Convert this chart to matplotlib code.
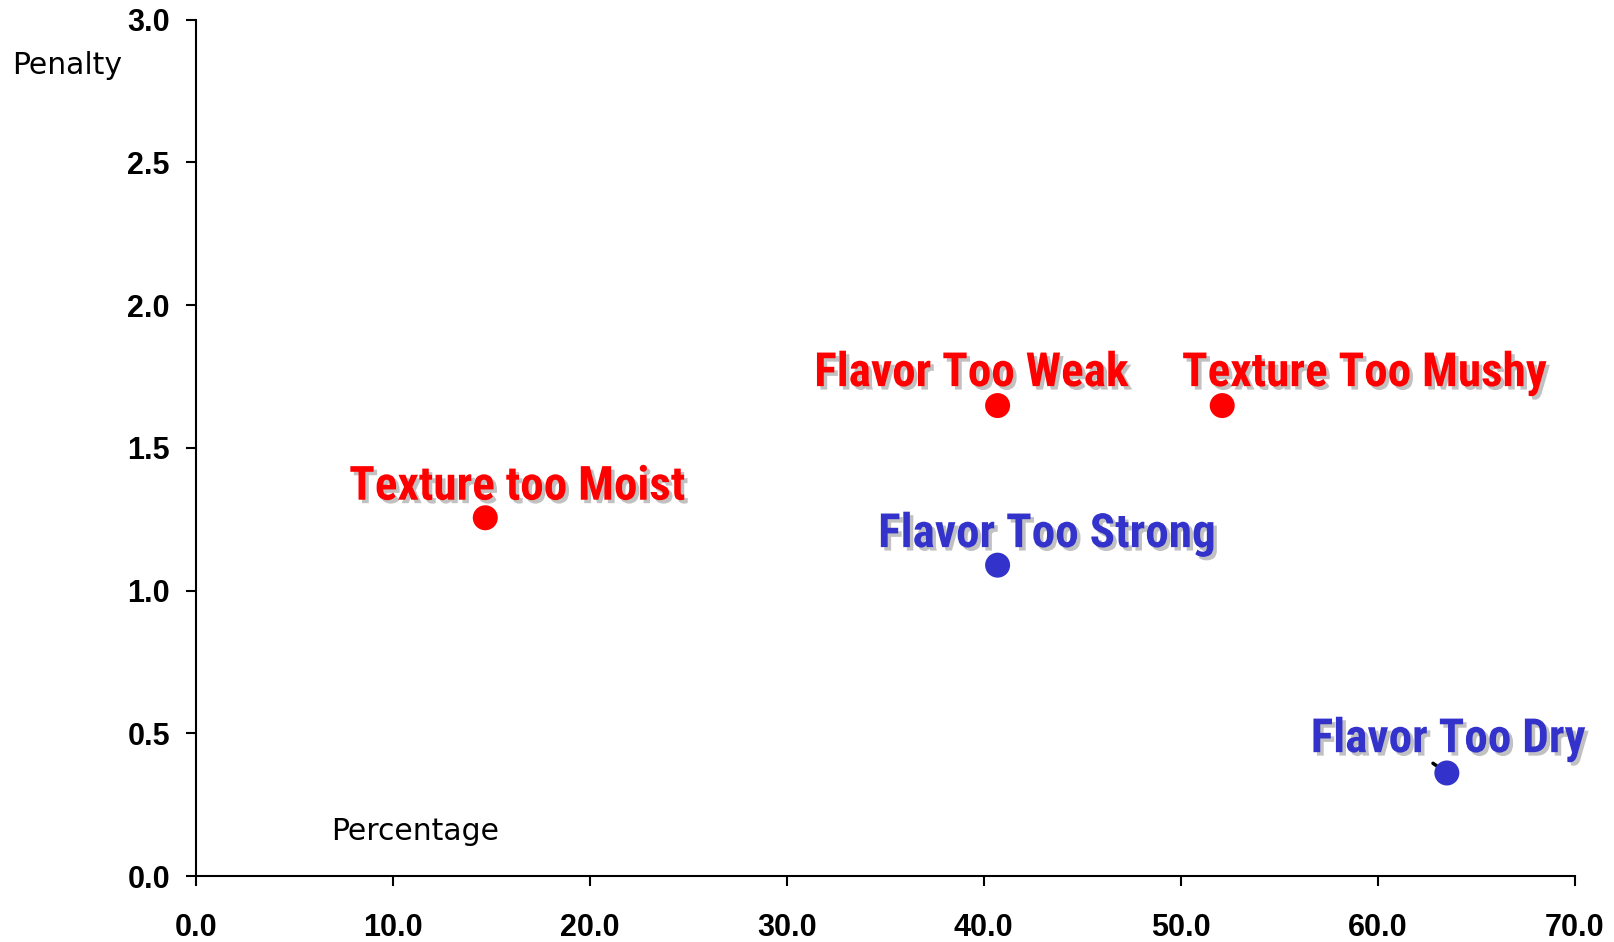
import matplotlib
matplotlib.use('Agg')
import matplotlib.pyplot as plt
import matplotlib.patheffects as pe

# Datos del gráfico de penalizaciones
etiquetas = ['Texture too Moist', 'Flavor Too Weak', 'Texture Too Mushy', 'Flavor Too Strong', 'Flavor Too Dry']
porcentaje = [14.7, 40.7, 52.1, 40.7, 63.5]
penalidad = [1.255, 1.648, 1.648, 1.089, 0.361]
colores = ['#FF0000', '#FF0000', '#FF0000', '#3333CC', '#3333CC']

# Desplazamiento de cada etiqueta respecto a su punto (en puntos)
desplazamientos = [(-98, 13), (-132, 14), (-29, 14), (-86, 13), (-98, 15)]

x_ticks = [0, 10, 20, 30, 40, 50, 60, 70]
y_ticks = [0.0, 0.5, 1.0, 1.5, 2.0, 2.5, 3.0]

fig = plt.figure(figsize=(16.14, 9.42), dpi=100)
ax = fig.add_axes([0.1212, 0.07, 0.8546, 0.9092])

ax.scatter(porcentaje, penalidad, s=324, c=colores, zorder=3, linewidths=0)

# pequeña línea guía que asoma en "Flavor Too Dry"
ax.annotate('', xy=(porcentaje[4], penalidad[4]), xytext=(-10, 7), textcoords='offset points',
            arrowprops=dict(arrowstyle='-', lw=2.5, color='black', shrinkA=0, shrinkB=0), zorder=2)

sombra = [pe.withSimplePatchShadow(offset=(2.5, -2.5), shadow_rgbFace='#999999', alpha=0.6)]
for et, x, y, c, d in zip(etiquetas, porcentaje, penalidad, colores, desplazamientos):
    ax.annotate(et, (x, y), xytext=d, textcoords='offset points', ha='left', va='baseline',
                color=c, fontsize=34, fontweight='bold',
                family=['Roboto Condensed', 'Roboto'],
                path_effects=sombra, zorder=4)

ax.set_xlim(0, 70)
ax.set_ylim(0, 3.0)
ax.set_xticks(x_ticks)
ax.set_xticklabels([f'{v:.1f}' for v in x_ticks])
ax.set_yticks(y_ticks)
ax.set_yticklabels([f'{v:.1f}' for v in y_ticks])

for s in ['top', 'right']:
    ax.spines[s].set_visible(False)
for s in ['left', 'bottom']:
    ax.spines[s].set_linewidth(1.5)

ax.tick_params(axis='both', direction='out', length=7.5, width=1.5)
ax.tick_params(axis='y', pad=11)
ax.tick_params(axis='x', pad=19)
for lab in ax.get_xticklabels() + ax.get_yticklabels():
    lab.set_family('Liberation Sans')
    lab.set_fontweight('bold')
    lab.set_fontsize(22)

fig.text(0.0075, 0.93, 'Penalty', fontsize=21.5, family='DejaVu Sans', ha='left', va='center')
fig.text(0.2575, 0.117, 'Percentage', fontsize=21.5, family='DejaVu Sans', ha='center', va='center')

fig.savefig('out.png', dpi=100)
